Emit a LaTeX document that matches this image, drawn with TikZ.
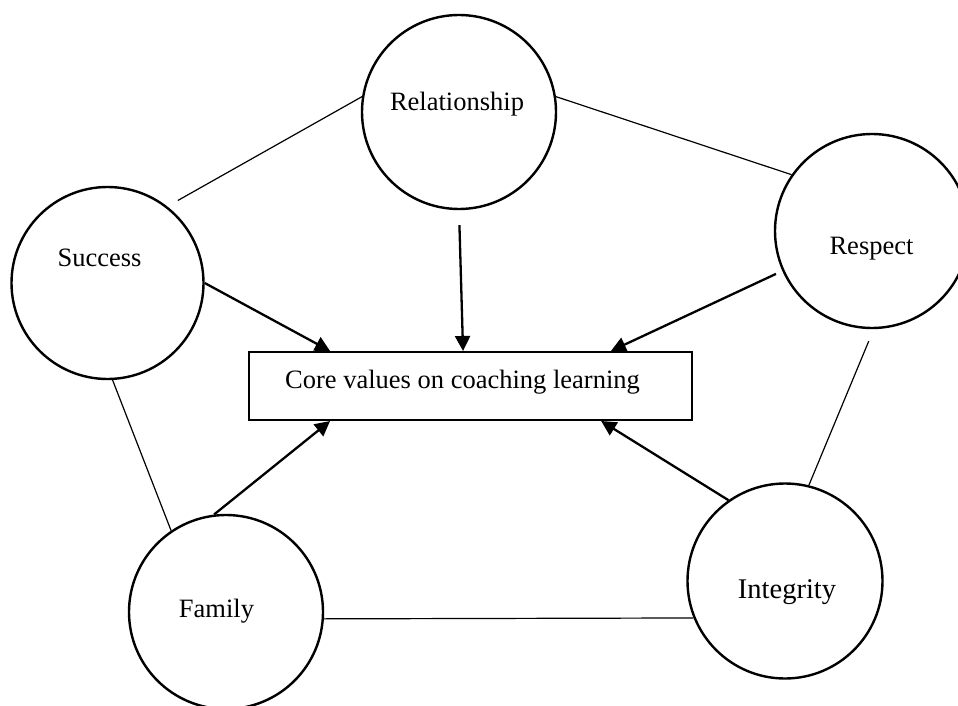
\documentclass[tikz,border=0pt]{standalone}
\usepackage{fontspec}
\setmainfont{Liberation Serif}
\usetikzlibrary{arrows.meta}
\begin{document}
\begin{tikzpicture}[x=1pt,y=-1pt,
 valuecircle/.style={circle,draw,line width=2.4pt,minimum size=194pt,inner sep=0pt},
 lbl/.style={anchor=base,inner sep=0pt,font=\fontsize{26.5}{30}\selectfont},
 link/.style={line width=1.2pt},
 feed/.style={line width=2.3pt,-{Triangle[length=15pt,width=15pt]}},
 corebox/.style={draw,line width=2pt,minimum width=443pt,minimum height=68pt,inner sep=0pt}]
\clip (0,0) rectangle (958,706);
% circles
\node[valuecircle] (rel) at (459,112) {};
\node[valuecircle,minimum size=192pt] (succ) at (107.5,283) {};
\node[valuecircle] (resp) at (872,231) {};
\node[valuecircle] (fam) at (226,612) {};
\node[valuecircle,minimum size=195pt] (integ) at (785,581) {};
\node[corebox] (core) at (470.5,386) {};
% labels
\node[lbl] (reltext) at (457,111) {Relationship};
\node[lbl] (succtext) at (99.5,266) {Success};
\node[lbl] (resptext) at (871.5,254) {Respect};
\node[lbl] (famtext) at (216.5,617) {Family};
\node[lbl,font=\fontsize{28.5}{32}\selectfont] (integtext) at (787,598) {Integrity};
\node[lbl] (coretext) at (462.5,388) {Core values on coaching learning};
% thin links
\draw[link,shorten <=12pt] (succ.52.5) -- (rel.171.7);
\draw[link] (rel.9.4) -- (resp.145.3);
\draw[link] (succ.273) -- (fam.124);
\draw[link,shorten <=13pt] (resp.271) -- (integ.76.4);
\draw[link] (fam.356.2) -- (integ.202);
% arrows
\draw[feed] (succ.0) -- (core.166.7);
\draw[feed,shorten <=15pt] (rel.270) -- (core.102.4);
\draw[feed,shorten <=7pt] (resp.204.8) -- (core.14.6);
\draw[feed] (fam.97.3) -- (core.194.3);
\draw[feed] (integ.125.7) -- (core.345.2);
\end{tikzpicture}
\end{document}
